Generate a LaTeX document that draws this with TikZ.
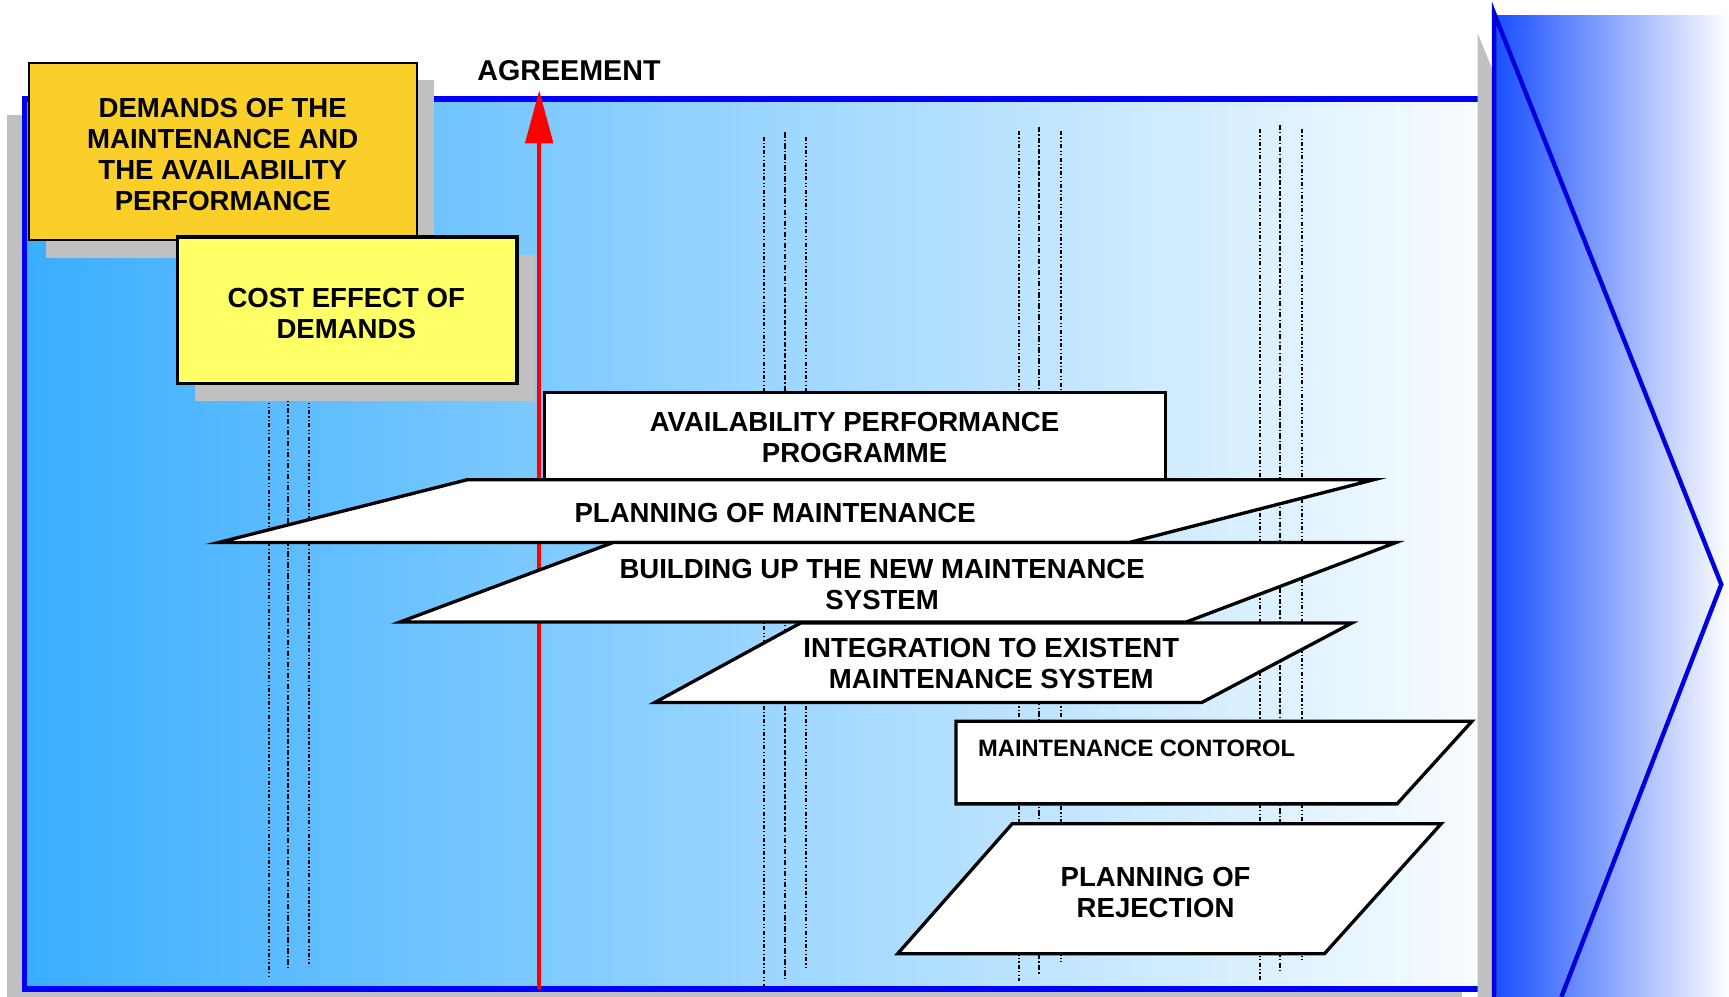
\documentclass[tikz,border=0pt]{standalone}
\usepackage{fontspec}
\setmainfont{Liberation Sans}
\usetikzlibrary{arrows.meta}
\definecolor{frameblue}{RGB}{0,0,255}
\definecolor{arrowblue}{RGB}{0,0,220}
\definecolor{skyleft}{RGB}{58,174,255}
\definecolor{skyright}{RGB}{248,252,255}
\definecolor{chevleft}{RGB}{26,80,255}
\definecolor{shadowgray}{RGB}{192,192,192}
\definecolor{gold}{RGB}{251,207,42}
\definecolor{lemon}{RGB}{255,255,102}

\begin{document}
\begin{tikzpicture}[x=0.5pt, y=-0.5pt,
  boxtext/.style={font=\fontsize{12.5}{14}\selectfont\bfseries, align=center},
  plan/.style={draw=black, fill=white, line width=1.5pt},
  outerline/.style={line width=0.9pt, dash pattern=on 1.8pt off 1pt on 0.6pt off 1pt on 0.6pt off 1pt},
  innerline/.style={line width=0.9pt, dash pattern=on 2.4pt off 1pt on 0.6pt off 1pt}]
\useasboundingbox (0,0) rectangle (1568,904);
% frame
\fill[shadowgray] (6,104) rectangle (1326,911);
\shade[left color=skyleft, right color=skyright] (22,90) rectangle (1340,897);
\draw[frameblue, line width=2.5pt] (1340,90) -- (22,90) -- (22,897) -- (1340,897);
% chevron
\fill[shadowgray] (1340,30) -- (1355,67) -- (1355,904) -- (1340,904) -- cycle;
\shade[left color=chevleft, right color=white] (1357,14) rectangle (1568,904);
\draw[arrowblue, line width=2pt] (1416,904) -- (1561,530) -- (1355,12) -- (1355,904);
% phase lines
\draw[outerline] (244,300) -- (244,886);
\draw[innerline] (261,300) -- (261,877);
\draw[outerline] (280,300) -- (280,876);
\draw[outerline] (693,124) -- (693,895);
\draw[innerline] (712,120) -- (712,888);
\draw[outerline] (731,124) -- (731,878);
\draw[outerline] (924,119) -- (924,890);
\draw[innerline] (942,115) -- (942,883);
\draw[outerline] (962,119) -- (962,872);
\draw[outerline] (1143,117) -- (1143,889);
\draw[innerline] (1161,113) -- (1161,881);
\draw[outerline] (1181,117) -- (1181,870);
% agreement
\coordinate (agreefoot) at (489,897);
\coordinate (agreetip) at (489,82);
\draw[red, line width=1.6pt, -{Triangle[length=24pt,width=12.5pt]}] (agreefoot) -- (agreetip);
\node[font=\fontsize{13}{15}\selectfont\bfseries] (agreement) at (516,64) {AGREEMENT};
% demand boxes
\fill[shadowgray] (42,73) rectangle (394,234);
\draw[fill=gold, line width=1pt] (26,57) rectangle (378,218);
\node[boxtext] (demands) at (202,140) {DEMANDS OF THE\\MAINTENANCE AND\\THE AVAILABILITY\\PERFORMANCE};
\fill[shadowgray] (177,231) rectangle (485,364);
\draw[fill=lemon, line width=1.6pt] (161,215) rectangle (469,348);
\node[boxtext] (cost) at (314,284) {COST EFFECT OF\\DEMANDS};
% programme steps
\draw[plan, line width=1.2pt] (494,356) rectangle (1057,460);
\node[boxtext] (programme) at (775,397) {AVAILABILITY PERFORMANCE\\PROGRAMME};
\draw[plan] (424,435) -- (1246,435) -- (1024,492) -- (198,492) -- cycle;
\node[boxtext] (planning) at (703,465) {PLANNING OF MAINTENANCE};
\draw[plan] (556,492) -- (1266,492) -- (1076,564) -- (363,564) -- cycle;
\node[boxtext] (building) at (800,530) {BUILDING UP THE NEW MAINTENANCE\\SYSTEM};
\draw[plan] (726,565) -- (1226,565) -- (1090,637) -- (594,637) -- cycle;
\node[boxtext] (integration) at (899,602) {INTEGRATION TO EXISTENT\\MAINTENANCE SYSTEM};
\draw[plan] (867,654) -- (1335,654) -- (1267,729) -- (867,729) -- cycle;
\node[font=\fontsize{10.75}{13}\selectfont\bfseries, anchor=west] (control) at (880,679) {MAINTENANCE CONTOROL};
\draw[plan] (918,747) -- (1307,747) -- (1201,865) -- (814,865) -- cycle;
\node[boxtext] (rejection) at (1048,809) {PLANNING OF\\REJECTION};
\end{tikzpicture}
\end{document}
